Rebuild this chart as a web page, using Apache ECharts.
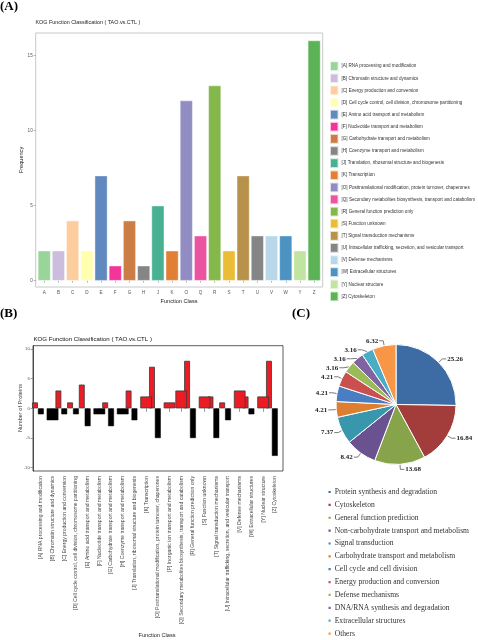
<!DOCTYPE html>
<html>
<head>
<meta charset="utf-8">
<script src="https://cdn.jsdelivr.net/npm/echarts@6/dist/echarts.min.js"></script>
<style>html,body{margin:0;padding:0;background:#fff;}#c{width:478px;height:640px;}</style>
</head>
<body>
<div id="c"></div>
<script>
// ---------- Panel A data ----------
const kogCodes = ['A','B','C','D','E','F','G','H','J','K','O','Q','R','S','T','U','V','W','Y','Z'];
const kogNames = [
  '[A] RNA processing and modification',
  '[B] Chromatin structure and dynamics',
  '[C] Energy production and conversion',
  '[D] Cell cycle control, cell division, chromosome partitioning',
  '[E] Amino acid transport and metabolism',
  '[F] Nucleotide transport and metabolism',
  '[G] Carbohydrate transport and metabolism',
  '[H] Coenzyme transport and metabolism',
  '[J] Translation, ribosomal structure and biogenesis',
  '[K] Transcription',
  '[O] Posttranslational modification, protein turnover, chaperones',
  '[Q] Secondary metabolites biosynthesis, transport and catabolism',
  '[R] General function prediction only',
  '[S] Function unknown',
  '[T] Signal transduction mechanisms',
  '[U] Intracellular trafficking, secretion, and vesicular transport',
  '[V] Defense mechanisms',
  '[W] Extracellular structures',
  '[Y] Nuclear structure',
  '[Z] Cytoskeleton'
];
const kogFreq = [2,2,4,2,7,1,4,1,5,2,12,3,13,2,7,3,3,3,2,16];
const kogTicks = [0,5,10,15];

// ---------- Panel B data ----------
const bCodes = ['A','B','C','D','E','F','G','H','J','K','O','P','Q','R','S','T','U','V','W','Y','Z'];
const bLabels = [
  '[A] RNA processing and modification',
  '[B] Chromatin structure and dynamics',
  '[C] Energy production and conversion',
  '[D] Cell cycle control, cell division, chromosome partitioning',
  '[E] Amino acid transport and metabolism',
  '[F] Nucleotide transport and metabolism',
  '[G] Carbohydrate transport and metabolism',
  '[H] Coenzyme transport and metabolism',
  '[J] Translation, ribosomal structure and biogenesis',
  '[K] Transcription',
  '[O] Posttranslational modification, protein turnover, chaperones',
  '[P] Inorganic ion transport and metabolism',
  '[Q] Secondary metabolites biosynthesis, transport and catabolism',
  '[R] General function prediction only',
  '[S] Function unknown',
  '[T] Signal transduction mechanisms',
  '[U] Intracellular trafficking, secretion, and vesicular transport',
  '[V] Defense mechanisms',
  '[W] Extracellular structures',
  '[Y] Nuclear structure',
  '[Z] Cytoskeleton'
];
const upCounts   = [1,0,3,1,4,0,1,0,3,2,7,1,3,8,2,2,1,3,2,2,8];
const downCounts = [-1,-2,-1,-1,-3,-1,-3,-1,-2,0,-5,0,0,-5,0,-5,-2,0,-1,0,-8];
const bTicks = [-10,-5,0,5,10];

// ---------- Panel C data ----------
const pieNames = [
  'Protein synthesis and degradation',
  'Cytoskeleton',
  'General function prediction',
  'Non-carbohydrate transport and metabolism',
  'Signal transduction',
  'Carbohydrate transport and metabolism',
  'Cell cycle and cell division',
  'Energy production and conversion',
  'Defense mechanisms',
  'DNA/RNA synthesis and degradation',
  'Extracellular structures',
  'Others'
];
const pieValues = [25.26,16.84,13.68,8.42,7.37,4.21,4.21,4.21,3.16,3.16,3.16,6.32];

// ---------- styles ----------
const kogPalette = ['#7FC97F','#BEAED4','#FDC086','#FFFF99','#386CB0','#F0027F','#BF5B17','#666666',
  '#1B9E77','#D95F02','#7570B3','#E7298A','#66A61E','#E6AB02','#A6761D','#666666',
  '#A6CEE3','#1F78B4','#B2DF8A','#33A02C'];
const piePalette = ['#3D6BA3','#A33D3B','#88A44B','#6A5290','#3896AD','#DE7E31',
  '#4A7EC2','#C9504E','#9BBB59','#8064A2','#4BACC6','#F79646'];
function blend(hex, a){
  const n = parseInt(hex.slice(1),16);
  const r = Math.round(((n>>16)&255)*a + 255*(1-a));
  const g = Math.round(((n>>8)&255)*a + 255*(1-a));
  const b = Math.round((n&255)*a + 255*(1-a));
  return 'rgb('+r+','+g+','+b+')';
}
const SANS = 'Liberation Sans, Arial, sans-serif';
const SERIF = 'Liberation Serif, Times New Roman, serif';

// Panel A series: one per class (for legend)
const seriesA = kogCodes.map((c,i)=>({
  type:'bar', name:kogNames[i], xAxisIndex:0, yAxisIndex:0,
  data:[[i+1, kogFreq[i]]], barWidth:12.8, barGap:'-100%',
  itemStyle:{color:blend(kogPalette[i],0.8), borderColor:'rgba(255,255,255,0.7)', borderWidth:0.6},
  emphasis:{disabled:true}
}));

// Panel B series
const upHalf=[], downHalf=[], upFull=[], downFull=[];
bCodes.forEach((c,i)=>{
  const x=i+1, u=upCounts[i], d=downCounts[i];
  if (u>0 && d<0){ upHalf.push([x-0.25,u]); downHalf.push([x+0.25,d]); }
  else if (u>0){ upFull.push([x,u]); }
  else if (d<0){ downFull.push([x,d]); }
});
const redStyle={color:'#EC1C24', borderColor:'#3a3a3a', borderWidth:0.8};
const blackStyle={color:'#000', borderColor:'#000', borderWidth:0.5};
const seriesB = [
  {type:'bar', name:'upHalf', xAxisIndex:1, yAxisIndex:1, data:upHalf, barWidth:5.84, barGap:'-100%', itemStyle:redStyle},
  {type:'bar', name:'downHalf', xAxisIndex:1, yAxisIndex:1, data:downHalf, barWidth:5.84, barGap:'-100%', itemStyle:blackStyle},
  {type:'bar', name:'upFull', xAxisIndex:1, yAxisIndex:1, data:upFull, barWidth:11.68, barGap:'-100%', itemStyle:redStyle},
  {type:'bar', name:'downFull', xAxisIndex:1, yAxisIndex:1, data:downFull, barWidth:11.68, barGap:'-100%', itemStyle:blackStyle}
];

const pieSeries = {
  type:'pie', center:[396,404.5], radius:60, startAngle:90, clockwise:true,
  avoidLabelOverlap:true,
  data: pieNames.map((n,i)=>({name:n, value:pieValues[i], itemStyle:{color:piePalette[i]}})),
  itemStyle:{borderColor:'#fff', borderWidth:1},
  label:{show:true, position:'outside', overflow:'none', formatter:p=>p.value.toFixed(2), fontFamily:SERIF, fontWeight:'bold', fontSize:7, color:'#222', distanceToLabelLine:1},
  labelLine:{show:true, length:5, length2:4, lineStyle:{color:'#444', width:0.7}},
  emphasis:{disabled:true}
};

const axisLabA = {fontFamily:SANS, fontSize:4.6, color:'#555'};
const option = {
  animation:false,
  textStyle:{fontFamily:SANS},
  title:[
    {text:'KOG Function Classification ( TAO.vs.CTL )', left:35.5, top:20.5, padding:0, textStyle:{fontFamily:SANS, fontSize:5.4, fontWeight:'normal', color:'#222'}},
    {text:'KOG Function Classification ( TAO.vs.CTL )', left:33.5, top:336, padding:0, textStyle:{fontFamily:SANS, fontSize:6.1, fontWeight:'normal', color:'#111'}}
  ],
  grid:[
    {left:35.7, top:33, width:287, height:254, show:true, borderColor:'#c8c8c8', borderWidth:1, containLabel:false},
    {left:33, top:345.7, width:250, height:125.3, show:true, borderColor:'#333', borderWidth:0.8, containLabel:false}
  ],
  xAxis:[
    {type:'value', gridIndex:0, min:0.4, max:20.6,
     axisLine:{show:false}, splitLine:{show:false},
     axisTick:{show:true, length:2, customValues:kogCodes.map((c,i)=>i+1), lineStyle:{color:'#888', width:0.6}},
     axisLabel:{...axisLabA, margin:2.8, customValues:kogCodes.map((c,i)=>i+1), formatter:v=>kogCodes[Math.round(v)-1]}},
    {type:'value', gridIndex:1, min:0.33, max:21.7,
     axisLine:{show:false}, splitLine:{show:false},
     axisTick:{show:true, length:3.5, customValues:bCodes.map((c,i)=>i+1), lineStyle:{color:'#555', width:0.6}},
     axisLabel:{fontFamily:SANS, fontSize:5.1, color:'#444', rotate:90, margin:5, customValues:bCodes.map((c,i)=>i+1), formatter:v=>bLabels[Math.round(v)-1]}}
  ],
  yAxis:[
    {type:'value', gridIndex:0, min:-0.42, max:16.5,
     axisLine:{show:false}, splitLine:{show:false},
     axisTick:{show:true, length:2, customValues:kogTicks, lineStyle:{color:'#888', width:0.6}},
     axisLabel:{...axisLabA, margin:3, customValues:kogTicks}},
    {type:'value', gridIndex:1, min:-10.55, max:10.55,
     axisLine:{show:true, lineStyle:{color:'#333', width:0.8}}, splitLine:{show:false},
     axisTick:{show:true, length:2.5, customValues:bTicks, lineStyle:{color:'#666', width:0.6}},
     axisLabel:{fontFamily:SANS, fontSize:4.4, color:'#555', margin:3, customValues:bTicks}}
  ],
  legend:[
    {data:kogNames, orient:'vertical', left:329, top:60.3, itemWidth:8.5, itemHeight:9.7, itemGap:0.42,
     icon:'rect', selectedMode:false, padding:0,
     textStyle:{fontFamily:SANS, fontSize:4.6, color:'#333', padding:[0,0,0,-2]}},
    {data:pieNames, orient:'vertical', left:326.5, top:487.5, itemWidth:4.2, itemHeight:4.2, itemGap:3.87,
     icon:'rect', selectedMode:false, padding:0,
     textStyle:{fontFamily:SERIF, fontSize:7.6, color:'#333', lineHeight:9, padding:[0,0,0,-2]}}
  ],
  graphic:[
    {type:'text', left:0, top:0, style:{text:'(A)', font:'bold 13px '+SERIF, fill:'#000'}},
    {type:'text', left:0, top:307, style:{text:'(B)', font:'bold 13px '+SERIF, fill:'#000'}},
    {type:'text', left:292, top:307, style:{text:'(C)', font:'bold 13px '+SERIF, fill:'#000'}},
    {type:'text', x:21, y:160, rotation:Math.PI/2, style:{text:'Frequency', font:'5.6px '+SANS, fill:'#222', align:'center', verticalAlign:'middle'}},
    {type:'text', x:179, y:301, style:{text:'Function Class', font:'5.6px '+SANS, fill:'#222', align:'center', verticalAlign:'middle'}},
    {type:'text', x:20.5, y:408, rotation:Math.PI/2, style:{text:'Number of Proteins', font:'5.6px '+SANS, fill:'#333', align:'center', verticalAlign:'middle'}},
    {type:'text', x:157, y:635.5, style:{text:'Function Class', font:'5.6px '+SANS, fill:'#222', align:'center', verticalAlign:'middle'}}
  ],
  series:[...seriesA, ...seriesB, pieSeries]
};
const chart = echarts.init(document.getElementById('c'), null, {renderer:'canvas', width:478, height:640});
chart.setOption(option);
</script>
</body>
</html>
